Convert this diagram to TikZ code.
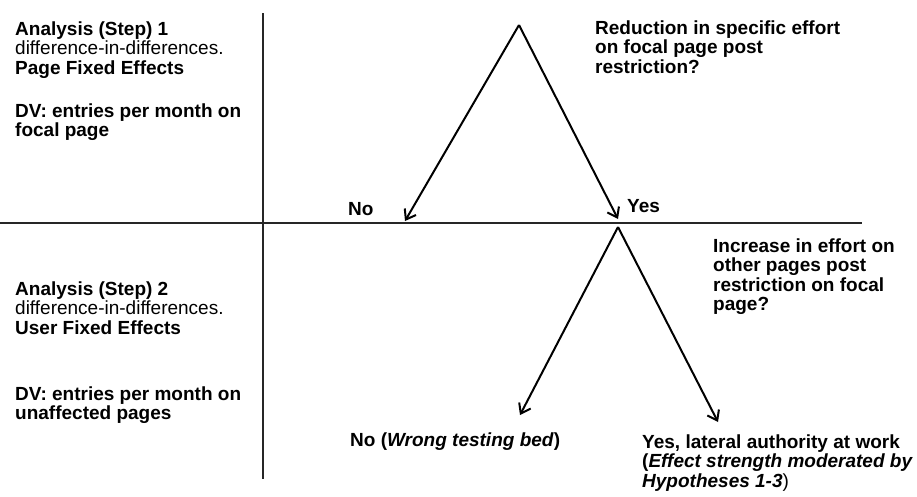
\documentclass[tikz,border=0pt]{standalone}
\usepackage{fontspec}
\setmainfont{Liberation Sans}
\usetikzlibrary{arrows.meta}
\begin{document}
\begin{tikzpicture}[x=1pt,y=-1pt,
		>={Straight Barb[length=9pt,width=13pt]},
		every node/.style={inner sep=0pt,align=left,font=\fontsize{19}{19.5}\selectfont},
		txt/.style={anchor=base west},
		axisline/.style={line width=2.2pt,black!85},
		branch/.style={line width=2pt,->}]
		\useasboundingbox (0,0) rectangle (917,496);
		
		% axes
		\coordinate (vtop) at (263,13);
		\coordinate (vbot) at (263,479);
		\coordinate (hleft) at (0,223);
		\coordinate (hright) at (862,223);
		\draw[axisline] (vtop) -- (vbot);
		\draw[axisline] (hleft) -- (hright);
		
		% decision tree
		\coordinate (qone) at (519,25);
		\coordinate (noone) at (405,221);
		\coordinate (yesone) at (618,219);
		\coordinate (qtwo) at (618,227);
		\coordinate (notwo) at (520,415);
		\coordinate (yestwo) at (718,422);
		\draw[branch] (qone) -- (noone);
		\draw[branch] (qone) -- (yesone);
		\draw[branch] (qtwo) -- (notwo);
		\draw[branch] (qtwo) -- (yestwo);
		
		% labels (base = baseline of last line)
		\node[txt] (stepone) at (15,74) {\textbf{Analysis (Step) 1}\\difference-in-differences.\\\textbf{Page Fixed Effects}};
		\node[txt] (dvone) at (15,136.5) {\textbf{DV: entries per month on}\\\textbf{focal page}};
		\node[txt] (askone) at (595,73) {\textbf{Reduction in specific effort}\\\textbf{on focal page post}\\\textbf{restriction?}};
		\node[txt] (nolabel) at (348,215) {\textbf{No}};
		\node[txt] (yeslabel) at (627,212) {\textbf{Yes}};
		\node[txt] (asktwo) at (713,310.5) {\textbf{Increase in effort on}\\\textbf{other pages post}\\\textbf{restriction on focal}\\\textbf{page?}};
		\node[txt] (steptwo) at (15,334) {\textbf{Analysis (Step) 2}\\difference-in-differences.\\\textbf{User Fixed Effects}};
		\node[txt] (dvtwo) at (15,419.5) {\textbf{DV: entries per month on}\\\textbf{unaffected pages}};
		\node[txt] (wrongbed) at (350,446) {\textbf{No (\textit{Wrong testing bed})}};
		\node[txt] (lateral) at (642,487) {\textbf{Yes, lateral authority at work}\\\textbf{(\textit{Effect strength moderated by}}\\\textbf{\textit{Hypotheses 1-3}})};
\end{tikzpicture}
\end{document}
